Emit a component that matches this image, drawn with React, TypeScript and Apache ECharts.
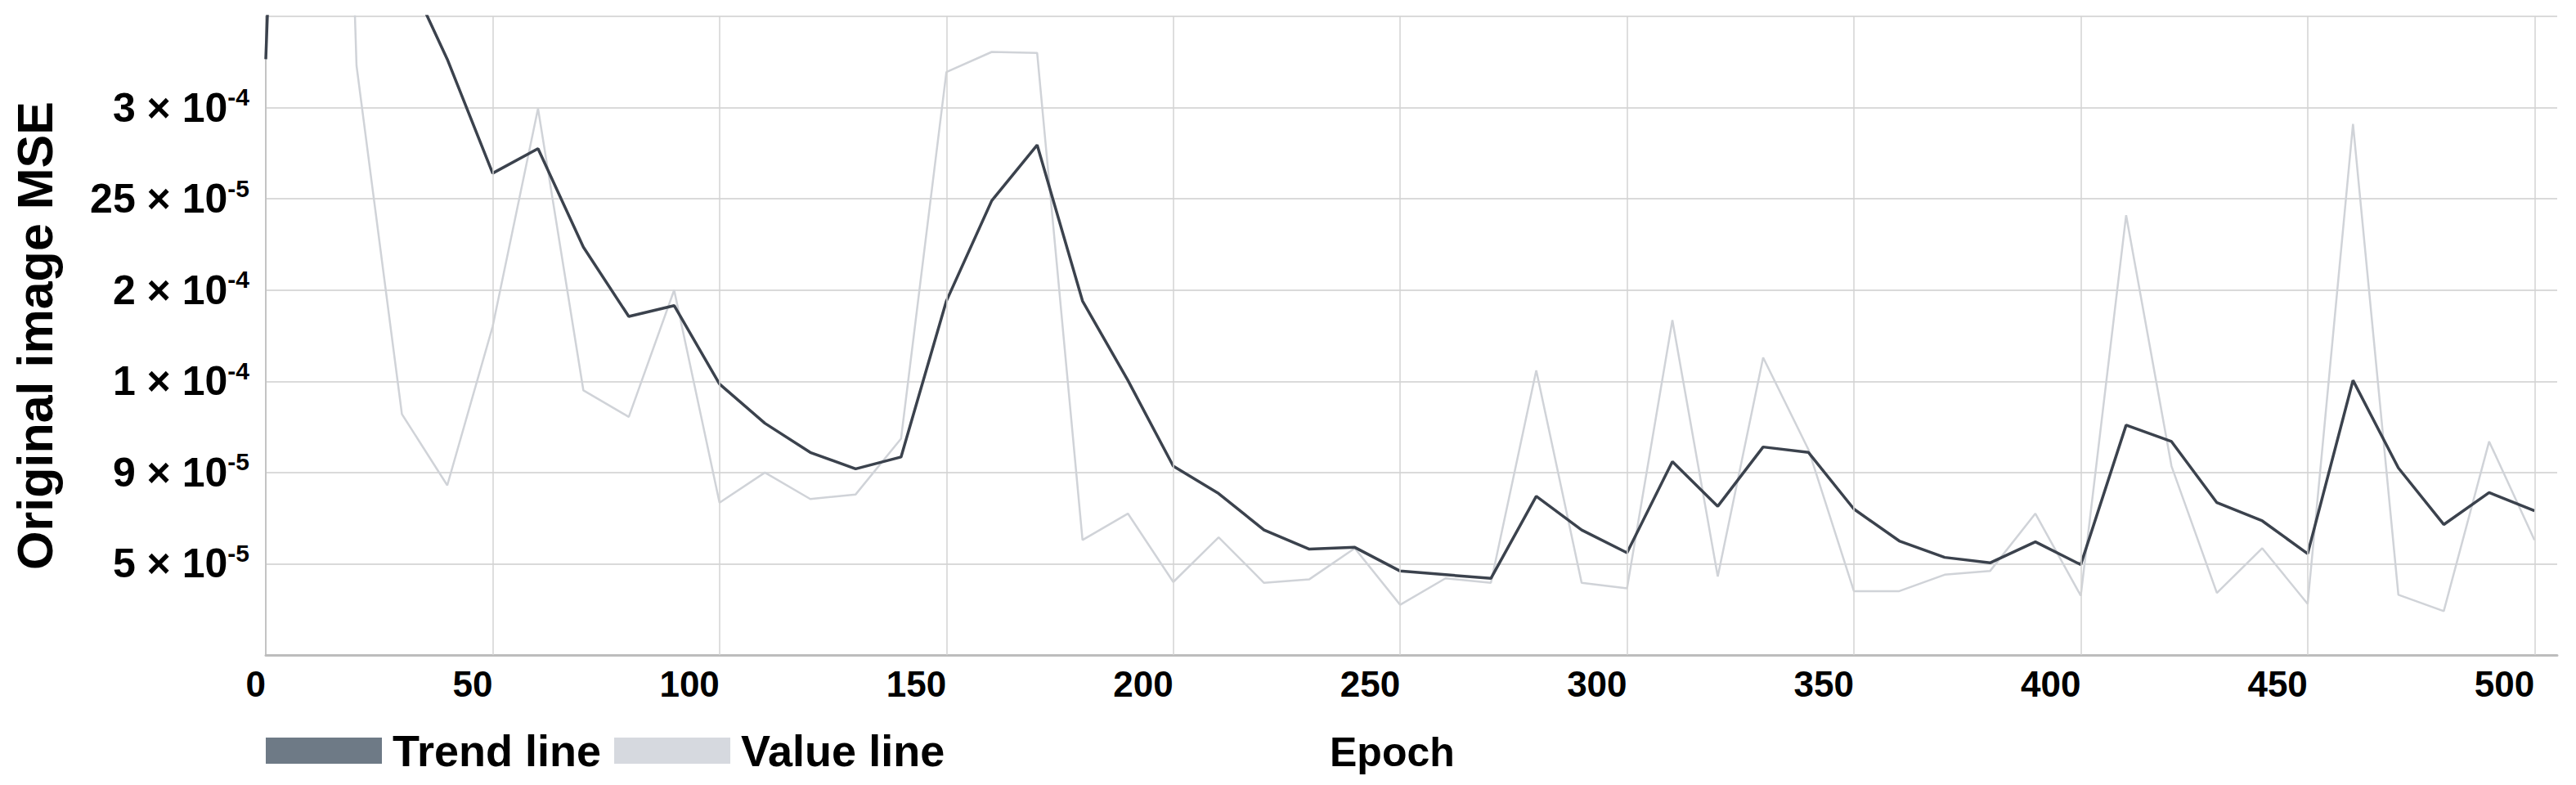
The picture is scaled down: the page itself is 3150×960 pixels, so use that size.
import React, { useEffect, useRef } from 'react';
import * as echarts from 'echarts';

// Epochs sampled every 10
const epochs = [
  0, 10, 20, 30, 40, 50, 60, 70, 80, 90,
  100, 110, 120, 130, 140, 150, 160, 170, 180, 190,
  200, 210, 220, 230, 240, 250, 260, 270, 280, 290,
  300, 310, 320, 330, 340, 350, 360, 370, 380, 390,
  400, 410, 420, 430, 440, 450, 460, 470, 480, 490, 500,
];

// Positions on the (non-linear) MSE scale, in tick-index units (tick i = label i)
const trendLine = [
  6.53, 20, 12, 7.6, 6.53, 5.28, 5.55, 4.47, 3.71, 3.83,
  2.97, 2.54, 2.22, 2.04, 2.17, 3.88, 4.98, 5.59, 3.88, 3.01,
  2.07, 1.77, 1.37, 1.16, 1.18, 0.92, 0.88, 0.84, 1.74, 1.37,
  1.12, 2.12, 1.63, 2.28, 2.22, 1.6, 1.25, 1.07, 1.01, 1.24,
  0.99, 2.52, 2.34, 1.67, 1.47, 1.11, 3.01, 2.05, 1.43, 1.78, 1.58,
];

const valueLine = [
  14, 22, 6.46, 2.64, 1.86, 3.6, 5.99, 2.9, 2.61, 4.0,
  1.67, 2.0, 1.71, 1.76, 2.37, 6.39, 6.61, 6.6, 1.26, 1.55,
  0.8, 1.29, 0.79, 0.83, 1.17, 0.55, 0.84, 0.79, 3.12, 0.79,
  0.73, 3.67, 0.86, 3.26, 2.25, 0.7, 0.7, 0.88, 0.92, 1.55,
  0.65, 4.82, 2.07, 0.68, 1.17, 0.56, 5.82, 0.66, 0.48, 2.34, 1.26,
];

const xTicks = [0, 50, 100, 150, 200, 250, 300, 350, 400, 450, 500];
const yTickMantissa = ['', '5', '9', '1', '2', '25', '3', ''];
const yTickExponent = ['', '-5', '-5', '-4', '-4', '-5', '-4', ''];

const FONT = "'Liberation Sans', Arial, sans-serif";

export default function App() {
  const ref = useRef<HTMLDivElement>(null);

  useEffect(() => {
    document.body.style.margin = '0';
    const chart = echarts.init(ref.current as HTMLDivElement, null, { renderer: 'svg' });
    chart.setOption({
      animation: false,
      backgroundColor: '#ffffff',
      textStyle: { fontFamily: FONT },
      grid: { left: 325, right: 23, top: 20, bottom: 159, containLabel: false },
      legend: {
        left: 320,
        top: 886,
        icon: 'rect',
        itemWidth: 142,
        itemHeight: 32,
        itemGap: 16,
        data: [
          { name: 'Trend line', itemStyle: { color: '#6e7a86' } },
          { name: 'Value line', itemStyle: { color: '#d6d9df' } },
        ],
        textStyle: {
          fontSize: 54,
          fontWeight: 'bold',
          color: '#000',
          fontFamily: FONT,
          lineHeight: 40,
          padding: [0, 0, 0, 8],
        },
      },
      xAxis: {
        type: 'value',
        min: 0,
        max: 505,
        interval: 50,
        axisLine: { show: true, lineStyle: { color: '#bdbdbd', width: 3 } },
        axisTick: { show: false },
        splitLine: { show: false },
        axisLabel: {
          show: true,
          align: 'right',
          margin: 13,
          fontSize: 44,
          fontWeight: 'bold',
          color: '#000',
          fontFamily: FONT,
          showMaxLabel: false,
          formatter: (v: number) => (xTicks.indexOf(v) >= 0 ? String(v) : ''),
        },
      },
      yAxis: {
        type: 'value',
        min: 0,
        max: 7,
        interval: 1,
        axisLine: { show: true, lineStyle: { color: '#c4c4c4', width: 2 } },
        axisTick: { show: false },
        splitLine: { show: true, lineStyle: { color: '#dadada', width: 2 } },
        axisLabel: {
          margin: 20,
          formatter: (v: number) => {
            const i = Math.round(v);
            if (!yTickMantissa[i]) return '';
            return `{m|${yTickMantissa[i]} × 10}{e|${yTickExponent[i]}}`;
          },
          rich: {
            m: { fontSize: 50, fontWeight: 'bold', color: '#000', fontFamily: FONT, lineHeight: 56 },
            e: { fontSize: 30, fontWeight: 'bold', color: '#000', fontFamily: FONT, lineHeight: 30, verticalAlign: 'top' },
          },
        },
        name: 'Original image MSE',
        nameLocation: 'middle',
        nameGap: 252,
        nameTextStyle: { fontSize: 61, fontWeight: 'bold', color: '#000', fontFamily: FONT },
      },
      series: [
        {
          name: 'gridX',
          type: 'line',
          data: [],
          silent: true,
          z: 1,
          markLine: {
            silent: true,
            symbol: ['none', 'none'],
            label: { show: false },
            lineStyle: { color: '#d3d3d3', width: 1.5, type: 'solid' },
            data: xTicks.slice(1).map((t) => ({ xAxis: t })),
          },
        },
        {
          name: 'Value line',
          type: 'line',
          data: epochs.map((e, i) => [e, valueLine[i]]),
          showSymbol: false,
          symbol: 'none',
          lineStyle: { color: '#d0d3d8', width: 2.5 },
          itemStyle: { color: '#d0d3d8' },
          z: 2,
        },
        {
          name: 'Trend line',
          type: 'line',
          data: epochs.map((e, i) => [e, trendLine[i]]),
          showSymbol: false,
          symbol: 'none',
          lineStyle: { color: '#3b424d', width: 3.5 },
          itemStyle: { color: '#3b424d' },
          z: 3,
        },
      ],
      graphic: [
        {
          type: 'text',
          x: 1626,
          y: 920,
          style: {
            text: 'Epoch',
            fontSize: 50,
            fontWeight: 'bold',
            fontFamily: FONT,
            fill: '#000',
            align: 'left',
            verticalAlign: 'middle',
          },
        },
      ],
    });
    return () => {
      chart.dispose();
    };
  }, []);

  return <div ref={ref} style={{ width: 3150, height: 960 }} />;
}
